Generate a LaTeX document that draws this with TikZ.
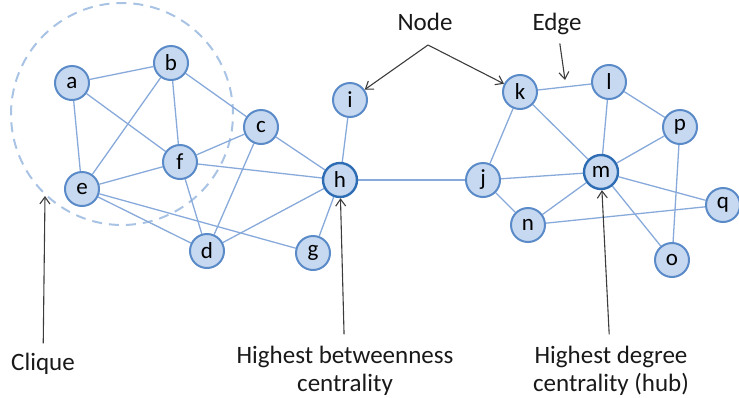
\documentclass[tikz,border=0pt]{standalone}
\usepackage{fontspec}
\setmainfont{Carlito}
\usetikzlibrary{arrows.meta,backgrounds}
\definecolor{nodefill}{HTML}{C6D9F1}
\definecolor{nodeline}{HTML}{5A8AC8}
\definecolor{hubline}{HTML}{2E6DB4}
\definecolor{edgeline}{HTML}{88AADA}
\definecolor{cliqueline}{HTML}{A9C3E4}
\definecolor{pointerline}{HTML}{3C3C3C}
\tikzset{
    vertex/.style={
        circle, draw=nodeline, fill=nodefill, line width=2pt,
        minimum size=34pt, inner sep=0pt,
        font=\fontsize{23}{23}\selectfont
    },
    hub vertex/.style={
        vertex, draw=hubline, line width=2.4pt
    },
    link/.style={
        edgeline, line width=1.3pt
    },
    pointer/.style={
        pointerline, line width=1.1pt,
        -{Straight Barb[length=7pt,width=10pt]}
    },
    caption/.style={
        font=\fontsize{25}{28}\selectfont,
        align=center, inner sep=3pt, text=black!90
    }
}

\begin{document}
\begin{tikzpicture}[x=1pt,y=-1pt]
    \useasboundingbox (0,0) rectangle (739,397);
    % vertices
    \node [vertex] (a) at (72,83) {a};
    \node [vertex] (b) at (171,63) {b};
    \node [vertex] (c) at (261,127) {c};
    \node [vertex] (d) at (207,251) {d};
    \node [vertex] (e) at (82,189) {e};
    \node [vertex] (f) at (180,162) {f};
    \node [vertex] (g) at (313,253) {g};
    \node [hub vertex] (h) at (340,180) {h};
    \node [vertex] (i) at (350,100) {i};
    \node [vertex] (j) at (483,180) {j};
    \node [vertex] (k) at (520,92) {k};
    \node [vertex] (l) at (609,82) {l};
    \node [hub vertex] (m) at (601,172) {m};
    \node [vertex] (n) at (528,225) {n};
    \node [vertex] (o) at (672,260) {o};
    \node [vertex] (p) at (680,127) {p};
    \node [vertex] (q) at (723,205) {q};
    % clique outline and edges behind the vertices
    \begin{scope}[on background layer]
    \draw [cliqueline, line width=2pt, dash pattern=on 10pt off 7pt] (122,114) circle [radius=111pt];
    \foreach \u/\v in {a/b,a/e,a/f,b/e,b/f,b/c,c/f,c/d,c/h,f/e,f/h,f/d,e/d,e/g,d/h,g/h,h/i,h/j,
                       j/k,j/m,j/n,k/l,k/m,l/m,l/p,m/p,m/n,m/q,m/o,n/q,p/o}
        \draw [link] (\u) -- (\v);
    \end{scope}
    % captions
    \node [caption, anchor=base] (nodetext) at (425,30) {Node};
    \node [caption, anchor=base] (edgetext) at (557,30) {Edge};
    \node [caption, anchor=base] (cliquetext) at (43,370) {Clique};
    \node [caption, anchor=base] (betweentext) at (345,391) {Highest betweenness\\centrality};
    \node [caption, anchor=base] (degreetext) at (611,391) {Highest degree\\centrality (hub)};
    \coordinate (nodeapex) at (428,45);
    \coordinate (edgetip) at (565,80);
    \coordinate (cliquetip) at (45,196);
    % pointers
    \draw [pointer] (nodeapex) -- (i);
    \draw [pointer] (nodeapex) -- (k);
    \draw [pointer, shorten <=6pt] (edgetext) -- (edgetip);
    \draw [pointer, shorten <=6pt] (cliquetext) -- (cliquetip);
    \draw [pointer, shorten <=8pt] (betweentext) -- (h);
    \draw [pointer, shorten <=8pt] (degreetext) -- (m);
\end{tikzpicture}
\end{document}
